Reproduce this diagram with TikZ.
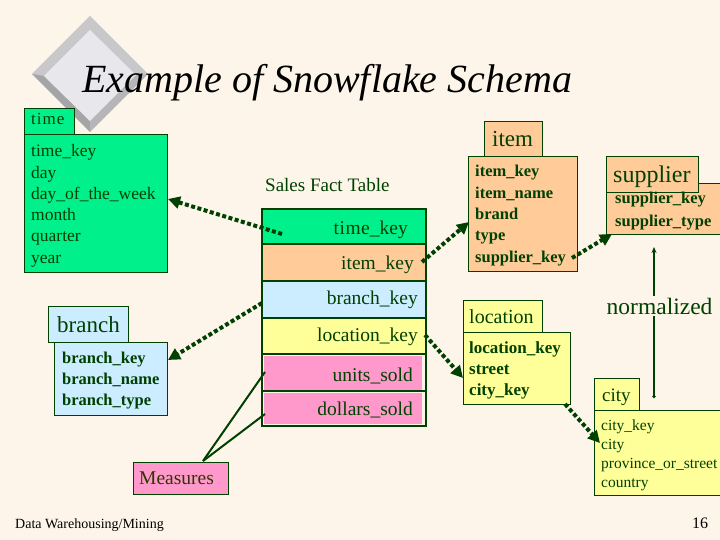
\documentclass[tikz,border=0pt]{standalone}
\usepackage{fontspec}
\setmainfont{Liberation Serif}
\usetikzlibrary{arrows.meta}
\definecolor{bg}{RGB}{253,245,233}
\definecolor{dkgreen}{RGB}{0,64,0}
\definecolor{fgreen}{RGB}{0,240,140}
\definecolor{forange}{RGB}{255,204,153}
\definecolor{fblue}{RGB}{204,236,255}
\definecolor{fyellow}{RGB}{255,255,153}
\definecolor{fpink}{RGB}{255,153,204}
\definecolor{mtext}{RGB}{51,51,0}
\definecolor{dgA}{RGB}{200,200,202}
\definecolor{dgB}{RGB}{165,165,168}
\definecolor{dgC}{RGB}{182,182,185}
\definecolor{dgD}{RGB}{232,232,236}
\tikzset{
  box/.style={draw=dkgreen, line width=1.2pt, inner sep=0pt, anchor=north west},
  row/.style={draw=dkgreen, line width=2.2pt, inner sep=0pt, anchor=north west, minimum width=164pt},
  txt/.style={text=dkgreen, inner sep=0pt, anchor=base west, font=\fontsize{17.5}{20}\selectfont},
  btxt/.style={txt, font=\fontsize{16.5}{20}\selectfont\bfseries},
  ctxt/.style={txt, font=\fontsize{15.5}{20}\selectfont},
  tabtxt/.style={txt, font=\fontsize{23}{26}\selectfont},
  rowtxt/.style={text=dkgreen, inner sep=0pt, anchor=base east, font=\fontsize{19.5}{22}\selectfont},
  dotarrow/.style={draw=dkgreen, line width=4pt, dash pattern=on 4pt off 2.5pt,
    -{Triangle[length=12pt,width=12pt]}},
  measline/.style={draw=dkgreen, line width=2pt}
}
\begin{document}
\begin{tikzpicture}[x=1pt,y=-1pt]
\fill[bg] (0,0) rectangle (720,540);
\useasboundingbox (0,0) rectangle (720,540);
\clip (0,0) rectangle (720,540);

% diamond decoration
\fill[dgA] (90,16) -- (148,74) -- (90,132) -- (32,74) -- cycle;
\fill[dgB] (32,74) -- (90,132) -- (90,121) -- (44,76) -- cycle;
\fill[dgC] (90,132) -- (148,74) -- (136,75) -- (90,121) -- cycle;
\fill[dgD] (90,30) -- (136,75) -- (90,121) -- (44,76) -- cycle;

% title
\node[inner sep=0pt, anchor=base west, font=\fontsize{40}{44}\selectfont\itshape] (title) at (82,93) {Example of Snowflake Schema};

% time dimension
\node[box, fill=fgreen, minimum width=50pt, minimum height=26pt] (timetab) at (24,108) {};
\node[txt, font=\fontsize{17}{20}\selectfont] (timetabt) at (31,125) {t\kern1pt i\kern1pt m\kern1pt e};
\node[box, fill=fgreen, minimum width=143pt, minimum height=138pt] (timebox) at (24,134) {};
\foreach \t [count=\i] in {time\_key, day, day\_of\_the\_week, month, quarter, year}
  \node[txt] (timef\i) at (31,157+21.2*\i-21.2) {\t};

% fact table
\node[text=dkgreen, inner sep=0pt, anchor=base west, font=\fontsize{19}{22}\selectfont] (facttitle) at (265,192) {Sales Fact Table};
\node[row, fill=fgreen, minimum height=35pt] (rtime) at (261,208) {};
\node[row, fill=forange, minimum height=37pt] (ritem) at (261,243) {};
\node[row, fill=fblue, minimum height=37pt] (rbranch) at (261,280) {};
\node[row, fill=fyellow, minimum height=36pt] (rloc) at (261,317) {};
\node[row, fill=bg, minimum height=72pt] (rmeas) at (261,353) {};
\node[box, fill=fpink, draw=none, minimum width=158pt, minimum height=35pt] (runits) at (263,355) {};
\node[box, fill=fpink, draw=none, minimum width=158pt, minimum height=31pt] (rdollars) at (263,392.5) {};
\draw[dkgreen, line width=2.2pt] (rmeas.west |- 0,391) -- (rmeas.east |- 0,391);
\node[rowtxt] (ftime) at (408,234) {t\kern0.5pt i\kern0.5pt m\kern0.5pt e\_key};
\node[rowtxt] (fitem) at (414,269) {item\_key};
\node[rowtxt] (fbranch) at (418,304) {branch\_key};
\node[rowtxt] (floc) at (418,341) {location\_key};
\node[rowtxt] (funits) at (413,381) {units\_sold};
\node[rowtxt] (fdollars) at (413,415) {dollars\_sold};

% item dimension
\node[box, fill=forange, minimum width=58pt, minimum height=35pt] (itemtab) at (484,121) {};
\node[tabtxt] (itemtabt) at (492,147) {item};
\node[box, fill=forange, minimum width=109pt, minimum height=115pt] (itembox) at (468,156) {};
\foreach \t [count=\i] in {item\_key, item\_name, brand, type, supplier\_key}
  \node[btxt] (itemf\i) at (475,177+21.25*\i-21.25) {\t};

% supplier dimension
\node[box, fill=forange, minimum width=130pt, minimum height=51pt] (supbox) at (606,183) {};
\node[box, fill=forange, minimum width=92pt, minimum height=36pt] (suptab) at (606,156) {};
\node[tabtxt, font=\fontsize{24}{26}\selectfont] (suptabt) at (613,183) {supplier};
\node[btxt] (supf1) at (615,204) {supplier\_key};
\node[btxt] (supf2) at (615,226) {supplier\_type};

% branch dimension
\node[box, fill=fblue, minimum width=80pt, minimum height=36pt] (branchtab) at (48,306) {};
\node[tabtxt] (branchtabt) at (57,332) {branch};
\node[box, fill=fblue, minimum width=113pt, minimum height=73pt] (branchbox) at (54,342) {};
\foreach \t [count=\i] in {branch\_key, branch\_name, branch\_type}
  \node[btxt] (branchf\i) at (62,363+21*\i-21) {\t};

% location dimension
\node[box, fill=fyellow, minimum width=79pt, minimum height=32pt] (loctab) at (463,300) {};
\node[tabtxt, font=\fontsize{20}{24}\selectfont] (loctabt) at (469,323) {location};
\node[box, fill=fyellow, minimum width=107pt, minimum height=72pt] (locbox) at (463,332) {};
\foreach \t [count=\i] in {location\_key, street, city\_key}
  \node[btxt, font=\fontsize{17}{20}\selectfont\bfseries] (locf\i) at (469,353+21*\i-21) {\t};

% city dimension
\node[box, fill=fyellow, minimum width=45pt, minimum height=32pt] (citytab) at (594,378) {};
\node[tabtxt, font=\fontsize{19}{24}\selectfont] (citytabt) at (602,401) {city};
\node[box, fill=fyellow, minimum width=140pt, minimum height=85pt] (citybox) at (594,410) {};
\foreach \t [count=\i] in {city\_key, city, province\_or\_street, country}
  \node[ctxt] (cityf\i) at (601,430+19*\i-19) {\t};

% measures
\node[box, draw=dkgreen, fill=fpink, minimum width=95pt, minimum height=32pt] (measbox) at (133,462) {};
\node[txt, text=mtext, font=\fontsize{19.5}{22}\selectfont] (meast) at (139,484) {Measures};

% normalized
\coordinate (normbot) at (654,398);
\coordinate (normtop) at (654,247);
\draw[dkgreen, line width=1.8pt, {Circle[length=3pt]}-{Stealth[length=6pt,width=5pt]}] (normbot) -- (normtop);
\node[text=dkgreen, fill=bg, inner sep=1.5pt, anchor=base west, font=\fontsize{23.5}{26}\selectfont] (normt) at (605,314) {normalized};

% connectors
\coordinate (a1s) at (282,234); \coordinate (a1e) at (168,199);
\coordinate (a2s) at (422,262); \coordinate (a2e) at (469,222);
\coordinate (a3s) at (572,258); \coordinate (a3e) at (612,234);
\coordinate (a4s) at (262,303); \coordinate (a4e) at (168,360);
\coordinate (a5s) at (425,335); \coordinate (a5e) at (463,378);
\coordinate (a6s) at (565,404); \coordinate (a6e) at (600,443);
\draw[dotarrow] (a1s) -- (a1e);
\draw[dotarrow] (a2s) -- (a2e);
\draw[dotarrow] (a3s) -- (a3e);
\draw[dotarrow] (a4s) -- (a4e);
\draw[dotarrow] (a5s) -- (a5e);
\draw[dotarrow] (a6s) -- (a6e);
\coordinate (m0) at (203,461);
\coordinate (m1) at (265,372);
\coordinate (m2) at (265,414);
\draw[measline] (m0) -- (m1);
\draw[measline] (m0) -- (m2);

% footer
\node[inner sep=0pt, anchor=base west, font=\fontsize{14}{16}\selectfont] (footer) at (15,528) {Data Warehousing/Mining};
\node[inner sep=0pt, anchor=base west, font=\fontsize{16}{18}\selectfont] (pageno) at (692,528) {16};
\end{tikzpicture}
\end{document}
